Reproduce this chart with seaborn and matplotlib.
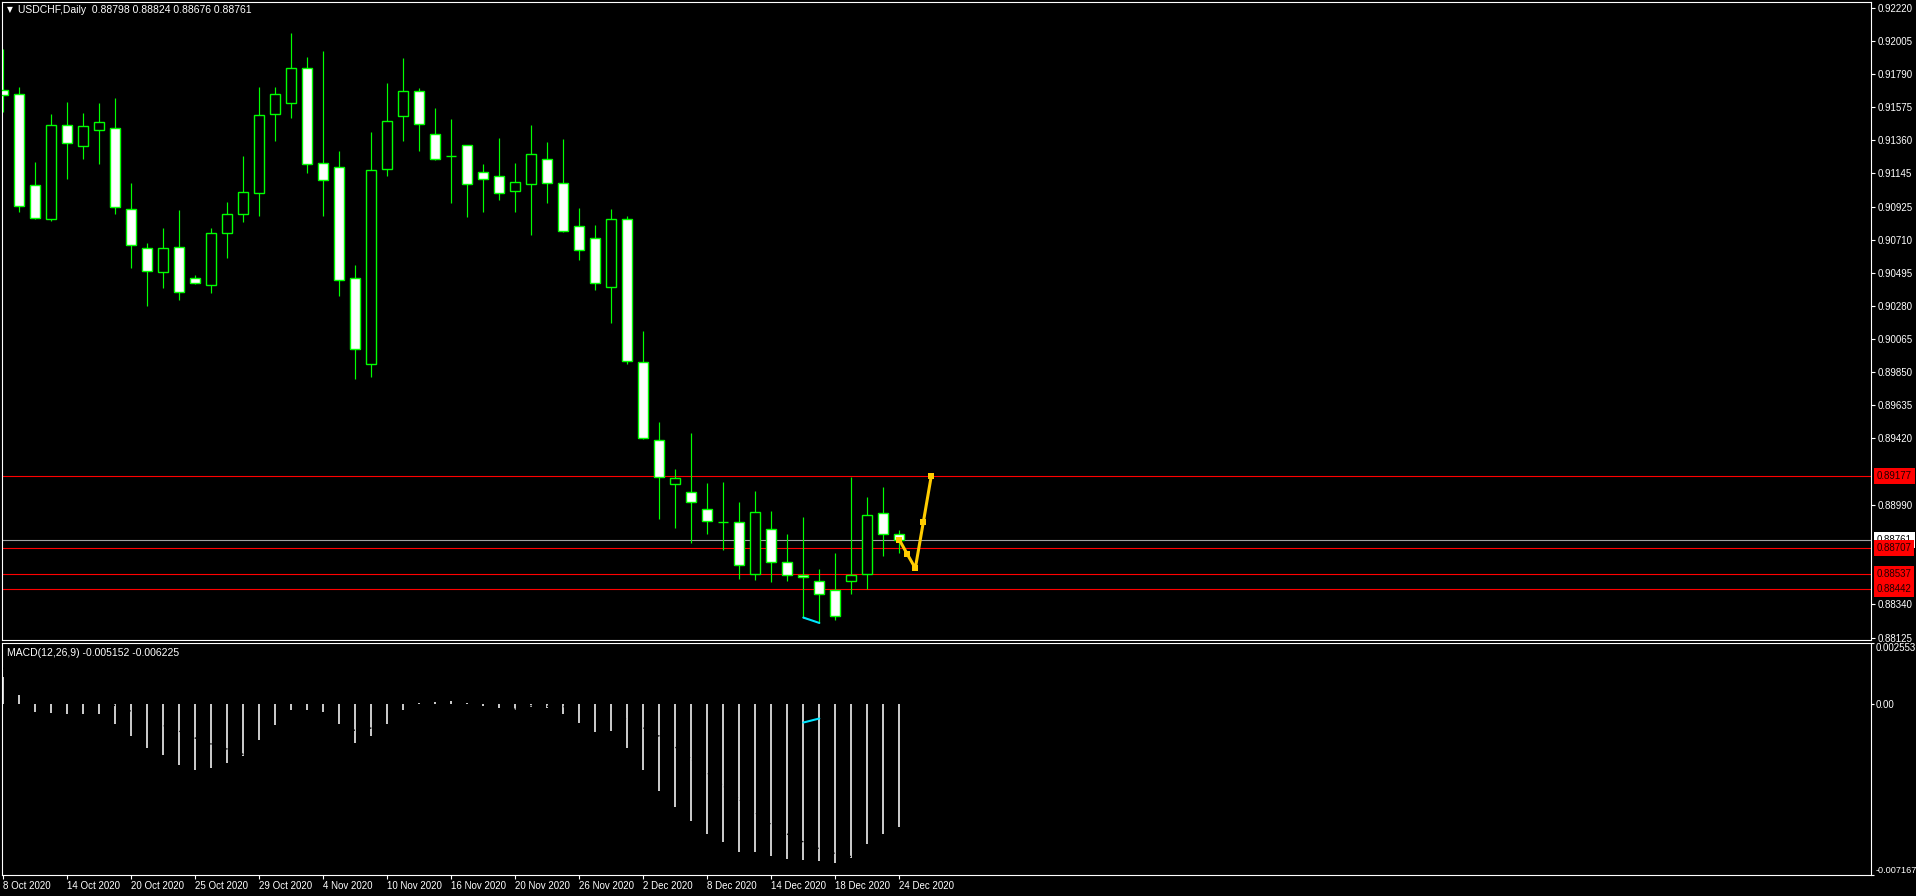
import numpy as np
import pandas as pd
import seaborn as sns
import matplotlib
matplotlib.use("Agg")
import matplotlib.pyplot as plt

# ---- data ----
symbol_title = "USDCHF,Daily  0.88798 0.88824 0.88676 0.88761"
macd_title = "MACD(12,26,9) -0.005152 -0.006225"

date_labels = ["8 Oct 2020", "14 Oct 2020", "20 Oct 2020", "25 Oct 2020", "29 Oct 2020",
               "4 Nov 2020", "10 Nov 2020", "16 Nov 2020", "20 Nov 2020", "26 Nov 2020",
               "2 Dec 2020", "8 Dec 2020", "14 Dec 2020", "18 Dec 2020", "24 Dec 2020"]
date_bars = [0, 4, 8, 12, 16, 20, 24, 28, 32, 36, 40, 44, 48, 52, 56]

opens = [0.91688, 0.91658, 0.91066, 0.90849, 0.91456, 0.91324, 0.91424, 0.91437, 0.90910, 0.90657,
         0.90500, 0.90663, 0.90461, 0.90420, 0.90754, 0.90878, 0.91014, 0.91528, 0.91600, 0.91827,
         0.91209, 0.91183, 0.90461, 0.89902, 0.91170, 0.91515, 0.91678, 0.91398, 0.91259, 0.91326,
         0.91155, 0.91125, 0.91032, 0.91077, 0.91235, 0.91084, 0.90800, 0.90722, 0.90403, 0.90845,
         0.89915, 0.89408, 0.89122, 0.89070, 0.88959, 0.88879, 0.88875, 0.88539, 0.88829, 0.88615,
         0.88535, 0.88491, 0.88433, 0.88496, 0.88539, 0.88933, 0.88798]
highs = [0.91953, 0.91706, 0.91216, 0.91530, 0.91608, 0.91537, 0.91602, 0.91634, 0.91081, 0.90689,
         0.90789, 0.90906, 0.90483, 0.90789, 0.90958, 0.91257, 0.91706, 0.91706, 0.92057, 0.91901,
         0.91940, 0.91290, 0.90548, 0.91413, 0.91732, 0.91894, 0.91697, 0.91569, 0.91498, 0.91326,
         0.91205, 0.91374, 0.91212, 0.91459, 0.91348, 0.91368, 0.90919, 0.90808, 0.90912, 0.90867,
         0.90119, 0.89527, 0.89222, 0.89456, 0.89131, 0.89137, 0.89007, 0.89079, 0.88949, 0.88799,
         0.88910, 0.88571, 0.88675, 0.89170, 0.89040, 0.89105, 0.88824]
lows = [0.91545, 0.90895, 0.90847, 0.90834, 0.91110, 0.91240, 0.91207, 0.90880, 0.90531, 0.90284,
        0.90401, 0.90323, 0.90425, 0.90368, 0.90596, 0.90830, 0.90869, 0.91357, 0.91506, 0.91149,
        0.90869, 0.90349, 0.89809, 0.89822, 0.91129, 0.91357, 0.91292, 0.91231, 0.90954, 0.90862,
        0.90895, 0.90973, 0.90895, 0.90745, 0.90954, 0.90761, 0.90583, 0.90388, 0.90173, 0.89906,
        0.89417, 0.88896, 0.88840, 0.88743, 0.88801, 0.88697, 0.88506, 0.88500, 0.88489, 0.88495,
        0.88253, 0.88220, 0.88242, 0.88409, 0.88441, 0.88658, 0.88676]
closes = [0.91654, 0.90930, 0.90856, 0.91456, 0.91339, 0.91450, 0.91476, 0.90923, 0.90676, 0.90507,
          0.90657, 0.90370, 0.90429, 0.90754, 0.90878, 0.91021, 0.91522, 0.91658, 0.91827, 0.91203,
          0.91099, 0.90448, 0.90000, 0.91164, 0.91483, 0.91678, 0.91463, 0.91235, 0.91259, 0.91073,
          0.91105, 0.91014, 0.91086, 0.91268, 0.91084, 0.90767, 0.90643, 0.90429, 0.90845, 0.89922,
          0.89425, 0.89167, 0.89161, 0.89005, 0.88881, 0.88879, 0.88595, 0.88940, 0.88619, 0.88532,
          0.88517, 0.88407, 0.88263, 0.88535, 0.88920, 0.88801, 0.88761]

macd_main = [0.00112, 0.00038, -0.00032, -0.00036, -0.00044, -0.00044, -0.00044, -0.00086, -0.00136, -0.00186,
             -0.00215, -0.00257, -0.00278, -0.00269, -0.00249, -0.00219, -0.00153, -0.00090, -0.00024, -0.00024,
             -0.00032, -0.00086, -0.00165, -0.00136, -0.00082, -0.00024, 0.00004, 0.00008, 0.00013, 0.00004,
             -0.00007, -0.00019, -0.00024, -0.00011, -0.00015, -0.00044, -0.00078, -0.00119, -0.00115, -0.00186,
             -0.00278, -0.00365, -0.00432, -0.00490, -0.00544, -0.00578, -0.00619, -0.00619, -0.00636, -0.00649,
             -0.00653, -0.00657, -0.00665, -0.00644, -0.00586, -0.00544, -0.005152]
macd_signal = [0.00150, 0.00128, 0.00096, 0.00069, 0.00046, 0.00028, 0.00013, -0.00007, -0.00031, -0.00064,
               -0.00090, -0.00114, -0.00143, -0.00168, -0.00189, -0.00211, -0.00203, -0.00180, -0.00150, -0.00120,
               -0.00100, -0.00097, -0.00111, -0.00101, -0.00097, -0.00083, -0.00066, -0.00050, -0.00038, -0.00027,
               -0.00023, -0.00022, -0.00022, -0.00007, -0.00010, -0.00011, -0.00020, -0.00040, -0.00049, -0.00065,
               -0.00100, -0.00135, -0.00181, -0.00230, -0.00289, -0.00343, -0.00400, -0.00456, -0.00506, -0.00545,
               -0.00578, -0.00607, -0.00627, -0.00640, -0.00640, -0.00632, -0.006225]

red_levels = [0.89177, 0.88707, 0.88537, 0.88442]
bid_level = 0.88761
price_ticks = [0.92220, 0.92005, 0.91790, 0.91575, 0.91360, 0.91145, 0.90925, 0.90710, 0.90495,
               0.90280, 0.90065, 0.89850, 0.89635, 0.89420, 0.88990, 0.88340, 0.88125]
price_range = (0.88109, 0.92259)
macd_range = (-0.007167, 0.002553)

zigzag_bar = [56, 56.5, 57, 57.5, 58]
zigzag_price = [0.88761, 0.88667, 0.88576, 0.88875, 0.89177]
cyan_bar = [50, 51]
cyan_price = [0.88255, 0.88220]
cyan_macd = [-0.00078, -0.00061]

# ---- style ----
sns.set_style("dark", {"axes.facecolor": "black", "figure.facecolor": "black",
                       "axes.edgecolor": "white", "grid.color": "black"})
plt.rcParams["font.family"] = ["Liberation Sans", "DejaVu Sans"]

LIME = "#00FF00"
W, H = 1916, 896
fig = plt.figure(figsize=(W / 100, H / 100), dpi=100)
ax = fig.add_axes([2 / W, 1 - 640 / H, 1869 / W, 638 / H])
ax2 = fig.add_axes([2 / W, 1 - 875 / H, 1869 / W, 232 / H])
xlim = (-0.081, 116.73)

df = pd.DataFrame({"bar": np.arange(len(closes)), "open": opens, "high": highs,
                   "low": lows, "close": closes, "macd": macd_main, "signal": macd_signal})
bull = df["close"] >= df["open"]

# ---- candles ----
ax.vlines(df["bar"], df["low"], df["high"], color=LIME, lw=0.85, zorder=2)
ax.bar(df["bar"], (df["close"] - df["open"]).abs(), bottom=df[["open", "close"]].min(axis=1),
       width=0.64, color=np.where(bull, "black", "white"), edgecolor=LIME, linewidth=1.0, zorder=3)

for lvl in red_levels:
    ax.axhline(lvl, color="#FF0000", lw=0.8, zorder=1)
ax.axhline(bid_level, color="#A0A0A0", lw=0.8, zorder=1)

sns.lineplot(x=zigzag_bar, y=zigzag_price, ax=ax, color="#FFCC00", lw=2.2, marker="s",
             markersize=5, markeredgewidth=0, estimator=None, sort=False, zorder=5)
sns.lineplot(x=cyan_bar, y=cyan_price, ax=ax, color="#00E5FF", lw=1.5, estimator=None, zorder=5)

ax.set_xlim(*xlim)
ax.set_ylim(*price_range)
ax.set_xlabel("")
ax.set_ylabel("")
ax.set_xticks([])
ax.yaxis.tick_right()
ax.set_yticks(price_ticks)
ax.set_yticklabels([f"{v:.5f}" for v in price_ticks])
ax.tick_params(axis="y", right=True, left=False, labelright=True, labelleft=False,
               colors="white", labelsize=7, length=3, width=0.8, pad=2)
ax.grid(False)

# right-side price labels
ax.text(1.003, bid_level, f"{bid_level:.5f}", transform=ax.get_yaxis_transform(), ha="left",
        va="center", fontsize=7, color="black", clip_on=False,
        bbox=dict(boxstyle="square,pad=0.3", fc="white", ec="none"))
for lvl in red_levels:
    ax.text(1.003, lvl, f"{lvl:.5f}", transform=ax.get_yaxis_transform(), ha="left",
            va="center", fontsize=7, color="#200000", clip_on=False,
            bbox=dict(boxstyle="square,pad=0.3", fc="#FF0000", ec="none"))

# ---- MACD ----
sns.barplot(x=df["bar"], y=df["macd"], ax=ax2, native_scale=True, width=0.13,
            color="#C8C8C8", saturation=1, errorbar=None, linewidth=0)
sns.lineplot(x=df["bar"], y=df["signal"], ax=ax2, color="black", lw=1.0,
             linestyle=(0, (1, 2)), estimator=None, zorder=4)
sns.lineplot(x=cyan_bar, y=cyan_macd, ax=ax2, color="#00E5FF", lw=1.5, estimator=None, zorder=5)

ax2.set_xlim(*xlim)
ax2.set_ylim(*macd_range)
ax2.set_xlabel("")
ax2.set_ylabel("")
ax2.yaxis.tick_right()
ax2.set_yticks([macd_range[0], 0.0, macd_range[1]])
ax2.set_yticklabels(["-0.007167", "0.00", "0.002553"])
ax2.tick_params(axis="y", right=True, left=False, labelright=True, labelleft=False,
                colors="white", labelsize=7, length=2, width=0.8, pad=1)
ticks = ax2.yaxis.get_major_ticks()
ticks[0].label2.set_va("bottom")
ticks[0].label2.set_fontsize(6.6)
ticks[2].label2.set_va("top")
ax2.set_xticks(date_bars)
ax2.set_xticklabels(date_labels)
ax2.tick_params(axis="x", bottom=True, colors="white", labelsize=7, length=3, width=0.8, pad=1)
for lbl in ax2.get_xticklabels():
    lbl.set_ha("left")
ax2.grid(False)

for a in (ax, ax2):
    for sp in a.spines.values():
        sp.set_color("white")
        sp.set_linewidth(0.8)

# ---- titles ----
fig.text(7 / W, 1 - 10 / H, "\u25bc", fontsize=5.5, color="white", va="center",
         family=["DejaVu Sans"])
fig.text(18 / W, 1 - 10 / H, symbol_title, fontsize=7.5, color="white", va="center")
fig.text(7 / W, 1 - 653 / H, macd_title, fontsize=7.5, color="white", va="center")

fig.savefig("out.png", dpi=100, facecolor="black")
